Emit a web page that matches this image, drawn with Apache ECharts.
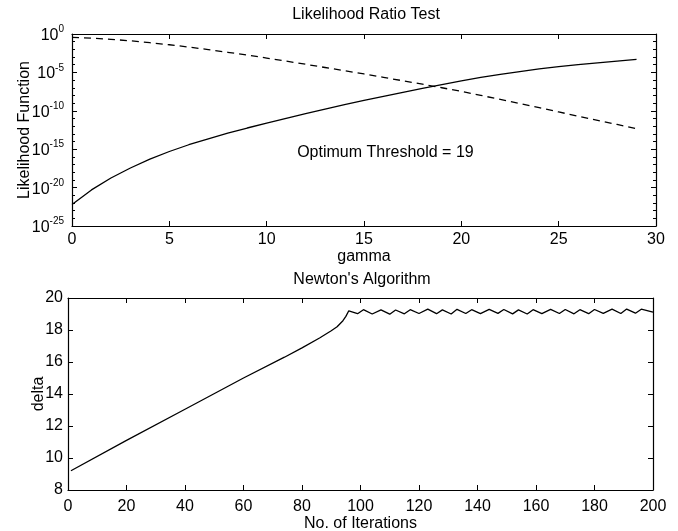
<!DOCTYPE html>
<html>
<head>
<meta charset="utf-8">
<script src="https://cdn.jsdelivr.net/npm/echarts@6/dist/echarts.min.js"></script>
<style>
html,body{margin:0;padding:0;background:#fff;}
#chart{width:678px;height:531px;}
</style>
</head>
<body>
<div id="chart"></div>
<script>
// ---------- data ----------
const gamma = [0,1,2,3,4,5,6,7,8,9,10,11,12,13,14,15,16,17,18,19,20,21,22,23,24,25,26,27,28,29];
// log10 of likelihood function, solid curve
const logLikelihoodSolid = [-22.2,-20.3,-18.75,-17.45,-16.3,-15.3,-14.42,-13.64,-12.92,-12.24,-11.6,-10.98,-10.38,-9.79,-9.21,-8.65,-8.11,-7.59,-7.08,-6.58,-6.1,-5.66,-5.26,-4.89,-4.55,-4.25,-3.99,-3.75,-3.52,-3.31];
// log10 of likelihood function, dashed curve
const logLikelihoodDashed = [-0.44,-0.54,-0.69,-0.89,-1.13,-1.4,-1.7,-2.03,-2.38,-2.75,-3.13,-3.53,-3.94,-4.36,-4.78,-5.2,-5.64,-6.09,-6.54,-7.0,-7.47,-7.99,-8.52,-9.06,-9.6,-10.15,-10.7,-11.24,-11.78,-12.32];
const thresholdText = 'Optimum Threshold = 19';
const thresholdAnchor = [16.1, -15.45];

// Newton's algorithm
const iterations = [1,20,40,60,74,80,86,90,92,94,95,96,
  99,101,104,107,110,112,115,117,120,123,126,128,131,133,136,138,141,144,147,149,152,154,157,159,162,165,168,170,173,175,178,180,183,186,189,191,194,196,200];
const delta = [9.2,11.1,13.05,15.0,16.3,16.88,17.5,17.95,18.2,18.58,18.85,19.2,
  19.02,19.27,19.0,19.26,18.99,19.25,19.01,19.27,19.03,19.3,19.02,19.26,19.0,19.29,19.03,19.27,19.02,19.29,19.04,19.28,19.01,19.26,19.0,19.27,19.02,19.29,19.03,19.28,19.01,19.27,19.02,19.28,19.04,19.3,19.03,19.31,19.05,19.3,19.12];

// ---------- styling ----------
const FONT = '"Liberation Sans", Arial, Helvetica, sans-serif';
const INK = '#000';
const FS = 16;

function baseAxis(extra) {
  return Object.assign({
    type: 'value',
    axisLine: { show: true, onZero: false, lineStyle: { color: INK, width: 1.2 } },
    axisTick: { show: true, inside: true, length: 5, lineStyle: { color: INK, width: 1 } },
    axisLabel: { color: INK, fontSize: FS, fontFamily: FONT },
    splitLine: { show: false },
    nameTextStyle: { color: INK, fontSize: FS, fontFamily: FONT }
  }, extra);
}
function mirror(ax, pos) {
  const m = Object.assign({}, ax);
  m.position = pos;
  m.name = '';
  m.axisLabel = Object.assign({}, ax.axisLabel, { show: false });
  return m;
}

const x0 = baseAxis({ gridIndex: 0, min: 0, max: 30, interval: 5, position: 'bottom',
  name: 'gamma', nameLocation: 'middle', nameGap: 20,
  axisLabel: { color: INK, fontSize: FS, fontFamily: FONT, margin: 6 } });
const y0 = baseAxis({ gridIndex: 0, min: -25, max: 0, interval: 5, position: 'left',
  name: 'Likelihood Function', nameLocation: 'middle', nameGap: 39, nameMoveOverlap: false,
  minorTick: { show: true, splitNumber: 5, length: 3, lineStyle: { color: INK } },
  axisLabel: {
    margin: 8,
    formatter: v => '{b|10}{s|' + v + '}',
    rich: {
      b: { fontSize: FS, fontFamily: FONT, color: INK, verticalAlign: 'bottom' },
      s: { fontSize: 10, fontFamily: FONT, color: INK, verticalAlign: 'bottom', padding: [0, 0, 9, 0] }
    }
  } });
const x1 = baseAxis({ gridIndex: 1, min: 0, max: 200, interval: 20, position: 'bottom',
  name: 'No. of Iterations', nameLocation: 'middle', nameGap: 24,
  axisLabel: { color: INK, fontSize: FS, fontFamily: FONT, margin: 9 } });
const y1 = baseAxis({ gridIndex: 1, min: 8, max: 20, interval: 2, position: 'left',
  name: 'delta', nameLocation: 'middle', nameGap: 21, nameMoveOverlap: false,
  axisLabel: { color: INK, fontSize: FS, fontFamily: FONT, margin: 5 } });

const option = {
  animation: false,
  backgroundColor: '#fff',
  textStyle: { fontFamily: FONT },
  title: [
    { text: 'Likelihood Ratio Test', left: 366, top: 7, textAlign: 'center', padding: 0,
      textStyle: { color: INK, fontSize: FS, fontWeight: 'normal', fontFamily: FONT } },
    { text: "Newton's Algorithm", left: 362, top: 272, textAlign: 'center', padding: 0,
      textStyle: { color: INK, fontSize: FS, fontWeight: 'normal', fontFamily: FONT } }
  ],
  grid: [
    { left: 72, top: 34, width: 584, height: 192, outerBoundsMode: 'none', containLabel: false },
    { left: 68, top: 298, width: 585, height: 192, outerBoundsMode: 'none', containLabel: false }
  ],
  xAxis: [x0, mirror(x0, 'top'), x1, mirror(x1, 'top')],
  yAxis: [y0, mirror(y0, 'right'), y1, mirror(y1, 'right')],
  series: [
    {
      type: 'line', xAxisIndex: 0, yAxisIndex: 0, showSymbol: false, symbol: 'none',
      data: gamma.map((g, i) => [g, logLikelihoodSolid[i]]),
      lineStyle: { color: INK, width: 1.3 },
      markPoint: {
        silent: true, symbol: 'circle', symbolSize: 0,
        label: { show: true, position: 'inside', formatter: thresholdText,
                 color: INK, fontSize: FS, fontFamily: FONT },
        data: [{ coord: thresholdAnchor }]
      }
    },
    {
      type: 'line', xAxisIndex: 0, yAxisIndex: 0, showSymbol: false, symbol: 'none',
      data: gamma.map((g, i) => [g, logLikelihoodDashed[i]]),
      lineStyle: { color: INK, width: 1.3, type: [7, 5] }
    },
    {
      type: 'line', xAxisIndex: 2, yAxisIndex: 2, showSymbol: false, symbol: 'none',
      data: iterations.map((it, i) => [it, delta[i]]),
      lineStyle: { color: INK, width: 1.3 }
    }
  ]
};

const chart = echarts.init(document.getElementById('chart'), null, { renderer: 'canvas' });
chart.setOption(option);
</script>
</body>
</html>
